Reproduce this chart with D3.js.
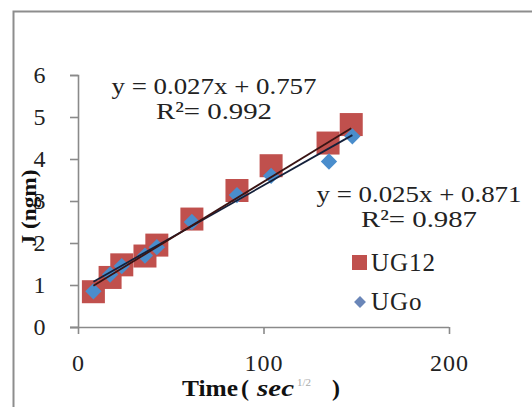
<!DOCTYPE html>
<html>
<head>
<meta charset="utf-8">
<script src="https://cdn.jsdelivr.net/npm/d3@7"></script>
<style>
  body { margin: 0; background: #fff; }
  svg { display: block; }
</style>
</head>
<body>
<svg id="chart" width="532" height="407"></svg>
<script>
// data
const timeUG12 = [8.3, 17.3, 23.6, 36.1, 42.5, 61.4, 85.7, 104.1, 134.8, 147.3];
const jUG12 = [0.84, 1.18, 1.48, 1.69, 1.95, 2.57, 3.25, 3.84, 4.38, 4.82];
const timeUGo = [8.3, 17.3, 23.6, 36.1, 42.5, 61.4, 85.7, 104.1, 135.3, 147.9];
const jUGo = [0.85, 1.25, 1.45, 1.7, 1.9, 2.5, 3.14, 3.6, 3.94, 4.54];

// trendline coefficients as printed on the chart
const fitUG12 = [0.027, 0.757];
const fitUGo = [0.025, 0.871];

const xTicks = [0, 100, 200];
const yTicks = [0, 1, 2, 3, 4, 5, 6];
const seriesNames = ["UG12", "UGo"];

const svg = d3.select("#chart");
const font = "'Liberation Serif', 'Times New Roman', serif";

const x = d3.scaleLinear().domain([0, 200]).range([78, 449]);
const y = d3.scaleLinear().domain([0, 6]).range([327, 75]);

// outer frame (runs off the right and bottom of the picture)
svg.append("path")
    .attr("d", "M13.5,420 V11.5 H545")
    .attr("fill", "none")
    .attr("stroke", "#8d8d8d")
    .attr("stroke-width", 2);

// axes
const xAxis = svg.append("g")
    .attr("transform", `translate(0,${y(0)})`)
    .call(d3.axisBottom(x).tickValues(xTicks).tickFormat(d3.format("d"))
        .tickSize(7).tickPadding(20));
const yAxis = svg.append("g")
    .attr("transform", `translate(${x(0)},0)`)
    .call(d3.axisLeft(y).tickValues(yTicks).tickFormat(d3.format("d"))
        .tickSize(8).tickPadding(25));

[xAxis, yAxis].forEach(function(g) {
    g.select(".domain").attr("stroke", "#8a8a8a").attr("stroke-width", 1.6);
    g.selectAll(".tick line").attr("stroke", "#8a8a8a").attr("stroke-width", 1.6);
    g.selectAll(".tick text")
        .attr("font-family", font)
        .attr("font-size", 24)
        .attr("letter-spacing", 1)
        .attr("fill", "#222");
});
yAxis.selectAll(".tick text").attr("text-anchor", "middle").attr("x", -38);
xAxis.select(".domain").attr("d", `M${x(0) - 8},0.5H${x(200)}`);

// axis titles
const xTitle = svg.append("text")
    .attr("y", 396)
    .attr("font-family", font)
    .attr("font-weight", "bold")
    .attr("font-size", 24)
    .attr("fill", "#111");
xTitle.append("tspan").attr("x", 182).attr("textLength", 56).attr("lengthAdjust", "spacingAndGlyphs").text("Time");
xTitle.append("tspan").attr("x", 241).text("(");
xTitle.append("tspan").attr("x", 257).attr("font-style", "italic")
    .attr("textLength", 37).attr("lengthAdjust", "spacingAndGlyphs").text("sec");
xTitle.append("tspan").attr("x", 297).attr("font-size", 11).attr("font-weight", "normal")
    .attr("fill", "#aaa").attr("dy", -10).text("1/2");
xTitle.append("tspan").attr("x", 332).attr("dy", 10).text(")");

svg.append("text")
    .attr("transform", "translate(36,208) rotate(-90)")
    .attr("text-anchor", "middle")
    .attr("font-family", font)
    .attr("font-weight", "bold")
    .attr("font-size", 22)
    .attr("textLength", 77)
    .attr("lengthAdjust", "spacingAndGlyphs")
    .attr("fill", "#111")
    .text("J (ngm)");

// markers: squares first, diamonds over them
svg.append("g").selectAll("rect")
    .data(d3.zip(timeUG12, jUG12))
    .join("rect")
    .attr("x", d => x(d[0]) - 11.5)
    .attr("y", d => y(d[1]) - 11.5)
    .attr("width", 23)
    .attr("height", 23)
    .attr("fill", "#c0504d");

const diamond = d3.symbol().type(d3.symbolDiamond2).size(170);
svg.append("g").selectAll("path")
    .data(d3.zip(timeUGo, jUGo))
    .join("path")
    .attr("d", diamond)
    .attr("transform", d => `translate(${x(d[0])},${y(d[1])})`)
    .attr("fill", "#4a8dcc");

// trendlines over the data range
function trend(fit, xs, color) {
    const x0 = d3.min(xs), x1 = d3.max(xs);
    svg.append("line")
        .attr("x1", x(x0)).attr("y1", y(fit[0] * x0 + fit[1]))
        .attr("x2", x(x1)).attr("y2", y(fit[0] * x1 + fit[1]))
        .attr("stroke", color)
        .attr("stroke-width", 1.8);
}
trend(fitUGo, timeUGo, "#14203a");
trend(fitUG12, timeUG12, "#3a1414");

// equation labels
function eqLabel(cx, baseY, fit, r2) {
    const g = svg.append("g")
        .attr("font-family", font)
        .attr("font-size", 24)
        .attr("fill", "#222")
        .attr("text-anchor", "middle");
    g.append("text").attr("x", cx).attr("y", baseY)
        .attr("textLength", 205).attr("lengthAdjust", "spacingAndGlyphs")
        .text(`y = ${fit[0].toFixed(3)}x + ${fit[1].toFixed(3)}`);
    g.append("text").attr("x", cx).attr("y", baseY + 25)
        .attr("textLength", 116).attr("lengthAdjust", "spacingAndGlyphs")
        .text(`R²= ${r2}`);
}
eqLabel(214, 94, fitUG12, "0.992");
eqLabel(419, 202, fitUGo, "0.987");

// legend
const legend = svg.append("g")
    .attr("font-family", font)
    .attr("font-size", 25)
    .attr("letter-spacing", 1)
    .attr("fill", "#222");
legend.append("rect")
    .attr("x", 352).attr("y", 255).attr("width", 15).attr("height", 15)
    .attr("fill", "#c0504d");
legend.append("path")
    .attr("d", d3.symbol().type(d3.symbolDiamond2).size(90))
    .attr("transform", "translate(360,302)")
    .attr("fill", "#6a86b8");
legend.selectAll("text")
    .data(seriesNames)
    .join("text")
    .attr("x", 371)
    .attr("y", (d, i) => 271 + i * 39)
    .text(d => d);
</script>
</body>
</html>
